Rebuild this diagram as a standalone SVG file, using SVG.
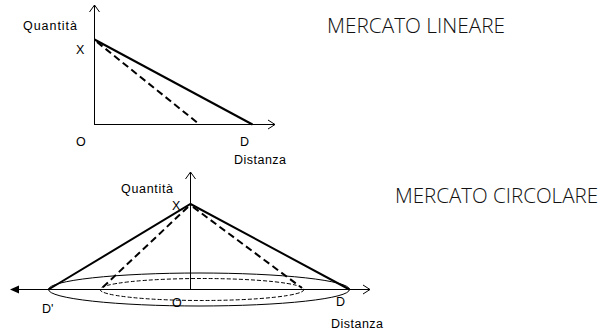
<svg xmlns="http://www.w3.org/2000/svg" width="604" height="336" viewBox="0 0 604 336">
<style>
.lbl{font-family:"Liberation Sans",Arial,sans-serif;font-size:12.5px;fill:#000}
.ttl{font-family:"Open Sans","Noto Sans",sans-serif;font-weight:300;font-size:21px;fill:#111}
.ax{stroke:#000;stroke-width:1;fill:none}
.sol{stroke:#000;stroke-width:2;fill:none}
.dsh{stroke:#000;stroke-width:2;fill:none;stroke-dasharray:7,4}
</style>
<rect width="604" height="336" fill="#fff"/>
<g id="linear">
  <g id="axes-top">
    <line class="ax" x1="94.5" y1="125" x2="94.5" y2="5"/>
    <polyline class="ax" points="89.5,12 94.5,5 99.5,12"/>
    <line class="ax" x1="94.5" y1="124.5" x2="275" y2="124.5"/>
    <polyline class="ax" points="268,120 275,124.5 268,129"/>
  </g>
  <g id="lines-top">
    <line class="sol" x1="94.5" y1="39.5" x2="252.5" y2="124.5"/>
    <line class="dsh" x1="97" y1="42" x2="199" y2="124"/>
  </g>
  <text class="lbl" x="23" y="30" textLength="54">Quantità</text>
  <text class="lbl" x="76" y="54">X</text>
  <text class="lbl" x="76" y="146">O</text>
  <text class="lbl" x="240" y="146">D</text>
  <text class="lbl" x="234" y="164" textLength="52">Distanza</text>
  <text class="ttl" x="327" y="33" textLength="178" lengthAdjust="spacingAndGlyphs">MERCATO LINEARE</text>
</g>
<g id="circular">
  <g id="axes-bottom">
    <line class="ax" x1="190.5" y1="290" x2="190.5" y2="172"/>
    <polyline class="ax" points="185.5,179 190.5,172 195.5,179"/>
    <line class="ax" x1="14" y1="289.5" x2="370" y2="289.5"/>
    <polygon points="10,289.5 19,285.5 19,293.5" fill="#000"/>
    <polyline class="ax" points="363,285 370,289.5 363,294"/>
  </g>
  <g id="cone">
    <ellipse class="ax" cx="199" cy="289.5" rx="150.5" ry="16.5"/>
    <ellipse cx="202" cy="289.5" rx="102" ry="11" fill="none" stroke="#000" stroke-width="1" stroke-dasharray="4,2"/>
    <polyline class="sol" points="48.5,289.5 190.5,204 349.5,289.5"/>
    <line class="dsh" x1="188" y1="207" x2="102" y2="288"/>
    <line class="dsh" x1="193" y1="207" x2="302" y2="288"/>
  </g>
  <text class="lbl" x="121" y="193" textLength="52">Quantità</text>
  <text class="lbl" x="172" y="210">X</text>
  <text class="lbl" x="42" y="313">D'</text>
  <text class="lbl" x="172" y="307">O</text>
  <text class="lbl" x="336" y="306">D</text>
  <text class="lbl" x="331" y="328" textLength="52">Distanza</text>
  <text class="ttl" x="395" y="203" textLength="203" lengthAdjust="spacingAndGlyphs">MERCATO CIRCOLARE</text>
</g>
</svg>
